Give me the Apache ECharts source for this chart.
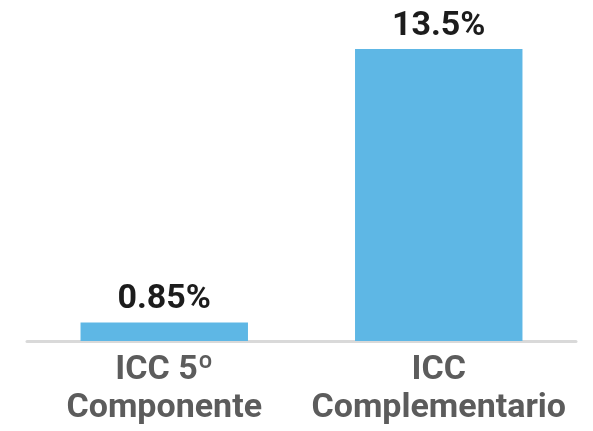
<!DOCTYPE html>
<html>
<head>
<meta charset="utf-8">
<script src="https://cdn.jsdelivr.net/npm/echarts@6/dist/echarts.min.js"></script>
<style>
html, body { margin: 0; padding: 0; background: #fff; }
#chart { width: 593px; height: 431px; }
</style>
</head>
<body>
<div id="chart"></div>
<script>
var categories = ['ICC 5º\nComponente', 'ICC\nComplementario'];
var values = [0.85, 13.5];
var valueLabels = ['0.85%', '13.5%'];

var chart = echarts.init(document.getElementById('chart'));
var option = {
    backgroundColor: '#fff',
    animation: false,
    grid: {
        left: 27,
        right: 17,
        top: 49,
        bottom: 90
    },
    xAxis: {
        type: 'category',
        data: categories,
        axisLine: { lineStyle: { color: '#d9d9d9', width: 3 } },
        axisTick: { show: false },
        axisLabel: {
            interval: 0,
            color: '#5c5c5c',
            fontFamily: 'Roboto',
            fontSize: 34,
            fontWeight: 'bold',
            lineHeight: 38,
            margin: 10
        }
    },
    yAxis: {
        type: 'value',
        min: 0,
        max: 13.5,
        show: false
    },
    series: [{
        type: 'bar',
        data: values,
        barWidth: '61%',
        itemStyle: { color: '#5eb7e5' },
        label: {
            show: true,
            position: 'top',
            distance: 6,
            color: '#1c1c1c',
            fontFamily: 'Roboto',
            fontSize: 34,
            fontWeight: 'bold',
            formatter: function (p) { return valueLabels[p.dataIndex]; }
        }
    }]
};
chart.setOption(option);
</script>
</body>
</html>
